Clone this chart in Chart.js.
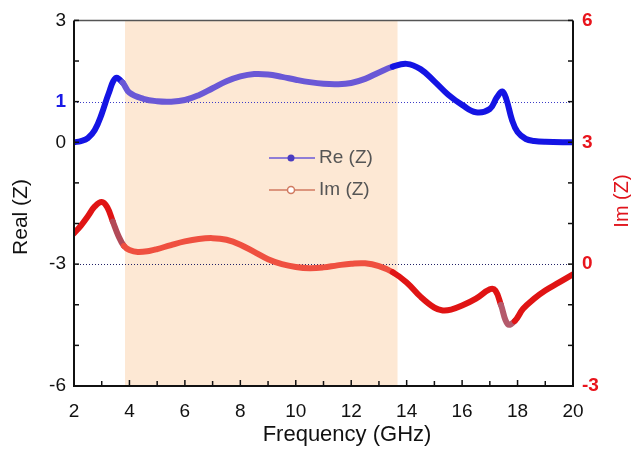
<!DOCTYPE html>
<html>
<head>
<meta charset="utf-8">
<script src="https://cdn.jsdelivr.net/npm/chart.js@4/dist/chart.umd.min.js"></script>
<style>
  html, body { margin: 0; padding: 0; background: #fff; }
  #wrap { width: 631px; height: 453px; }
</style>
</head>
<body>
<div id="wrap"><canvas id="canvas" width="631" height="453"></canvas></div>
<script>
// frequency (GHz) and Re(Z) (left axis)
var reFreq = [2.0, 2.25, 2.5, 2.75, 3.0, 3.25, 3.5, 3.75, 4.0, 4.5, 5.0, 5.5, 6.0, 6.5, 7.0, 7.5, 8.0, 8.5, 9.0, 9.5,
    10.0, 10.5, 11.0, 11.5, 12.0, 12.5, 13.0, 13.5, 14.0, 14.5, 15.0, 15.5, 16.0, 16.5, 17.0, 17.25, 17.45, 17.6,
    17.8, 18.0, 18.3, 18.6, 19.0, 20.0];
var reVals = [0.00, 0.03, 0.10, 0.30, 0.70, 1.20, 1.58, 1.47, 1.22, 1.07, 1.01, 1.00, 1.04, 1.16, 1.33, 1.50, 1.62, 1.68, 1.67, 1.61,
    1.54, 1.48, 1.44, 1.43, 1.46, 1.56, 1.72, 1.86, 1.93, 1.80, 1.50, 1.17, 0.92, 0.74, 0.82, 1.10, 1.25, 1.05,
    0.55, 0.25, 0.08, 0.03, 0.01, 0.00];

// frequency (GHz) and Im(Z) (right axis)
var imFreq = [2.0, 2.25, 2.5, 2.75, 3.0, 3.2, 3.4, 3.6, 3.8, 4.0, 4.3, 4.75, 5.0, 5.5, 6.0, 6.5, 7.0, 7.5, 8.0, 8.5, 9.0, 9.5,
    10.0, 10.5, 11.0, 11.5, 12.0, 12.5, 13.0, 13.5, 14.0, 14.5, 15.0, 15.3, 15.6, 16.0, 16.5, 17.0, 17.2, 17.4,
    17.65, 17.9, 18.2, 18.6, 19.0, 19.5, 20.0];
var imVals = [0.76, 0.95, 1.18, 1.42, 1.53, 1.40, 1.05, 0.70, 0.45, 0.35, 0.30, 0.33, 0.37, 0.47, 0.56, 0.62, 0.64, 0.60, 0.48, 0.30, 0.12, 0.00,
    -0.07, -0.10, -0.08, -0.03, 0.01, 0.02, -0.05, -0.20, -0.45, -0.80, -1.07, -1.14, -1.12, -1.02, -0.85, -0.62, -0.65, -1.00,
    -1.48, -1.40, -1.10, -0.85, -0.65, -0.45, -0.25];

var bandStart = 3.84, bandEnd = 13.67;
var leftLabels = [3, 1, 0, -3, -6];
var rightLabels = [6, 3, 0, -3];
var refLines = [1, -3];

function toPoints(xs, ys) {
    var pts = [];
    for (var i = 0; i < xs.length; i++) pts.push({ x: xs[i], y: ys[i] });
    return pts;
}

function inBand(ctx) {
    var mid = (ctx.p0.parsed.x + ctx.p1.parsed.x) / 2;
    return mid > bandStart && mid < bandEnd;
}

function reColor(ctx) {
    return inBand(ctx) ? '#6a58d6' : '#1414e4';
}

function imColor(ctx) {
    var mid = (ctx.p0.parsed.x + ctx.p1.parsed.x) / 2;
    if (mid > 3.3 && mid < 3.84) return '#b24a58';
    if (mid > 17.3 && mid < 17.8) return '#b45a6c';
    return inBand(ctx) ? '#ef5040' : '#e01414';
}

function isOne(c) {
    return c && c.tick && c.tick.value == 1;
}

var frame = {
    id: 'frame',
    beforeDatasetsDraw: function (chart) {
        var c = chart.ctx, a = chart.chartArea, x = chart.scales.x, y = chart.scales.y;
        c.save();
        c.fillStyle = 'rgb(253,232,212)';
        c.fillRect(x.getPixelForValue(bandStart), a.top, x.getPixelForValue(bandEnd) - x.getPixelForValue(bandStart), a.bottom - a.top);
        c.lineWidth = 1;
        c.setLineDash([1, 2]);
        refLines.forEach(function (v, i) {
            var py = Math.round(y.getPixelForValue(v)) + 0.5;
            c.strokeStyle = i == 0 ? '#3c3cc8' : '#222266';
            c.beginPath();
            c.moveTo(a.left, py);
            c.lineTo(a.right, py);
            c.stroke();
        });
        c.restore();
    },
    afterDatasetsDraw: function (chart) {
        var c = chart.ctx, a = chart.chartArea;
        var x = chart.scales.x, y = chart.scales.y, y2 = chart.scales.y2;
        c.save();
        // box
        c.strokeStyle = '#555';
        c.lineWidth = 1.5;
        c.beginPath();
        c.moveTo(a.left, a.top);
        c.lineTo(a.right, a.top);
        c.stroke();
        c.strokeStyle = '#111';
        c.lineWidth = 2;
        c.beginPath();
        c.moveTo(a.left, a.top);
        c.lineTo(a.left, a.bottom);
        c.lineTo(a.right, a.bottom);
        c.lineTo(a.right, a.top);
        c.stroke();

        // inward ticks
        c.lineWidth = 1.5;
        x.ticks.forEach(function (t) {
            var px = x.getPixelForValue(t.value);
            var len = t.value % 2 == 0 ? 6 : 5;
            c.beginPath();
            c.moveTo(px, a.bottom);
            c.lineTo(px, a.bottom - len);
            c.stroke();
        });
        y.ticks.forEach(function (t) {
            var py = y.getPixelForValue(t.value);
            c.beginPath();
            c.moveTo(a.left, py);
            c.lineTo(a.left + 5, py);
            c.stroke();
        });
        y2.ticks.forEach(function (t) {
            var py = y2.getPixelForValue(t.value);
            c.beginPath();
            c.moveTo(a.right, py);
            c.lineTo(a.right - 5, py);
            c.stroke();
        });

        // legend
        c.lineWidth = 1.5;
        c.strokeStyle = '#6a5ad8';
        c.beginPath(); c.moveTo(269, 158); c.lineTo(315, 158); c.stroke();
        c.fillStyle = '#4a3cc0';
        c.beginPath(); c.arc(291, 158, 3.5, 0, Math.PI * 2); c.fill();
        c.strokeStyle = '#d07a60';
        c.beginPath(); c.moveTo(269, 190); c.lineTo(315, 190); c.stroke();
        c.fillStyle = '#fff';
        c.beginPath(); c.arc(291, 190, 3.5, 0, Math.PI * 2); c.fill(); c.stroke();
        c.fillStyle = '#555';
        c.font = '19px "Liberation Sans", Arial, sans-serif';
        c.textBaseline = 'middle';
        c.textAlign = 'left';
        c.fillText('Re (Z)', 319, 158);
        c.fillText('Im (Z)', 319, 190);

        // axis titles
        c.fillStyle = '#111';
        c.textAlign = 'center';
        c.font = '22px "Liberation Sans", Arial, sans-serif';
        c.fillText('Frequency (GHz)', 347, 435);
        c.save();
        c.translate(21, 217);
        c.rotate(-Math.PI / 2);
        c.font = '21px "Liberation Sans", Arial, sans-serif';
        c.fillText('Real (Z)', 0, 0);
        c.restore();
        c.save();
        c.translate(622, 201);
        c.rotate(-Math.PI / 2);
        c.fillStyle = '#e0141c';
        c.font = '20px "Liberation Sans", Arial, sans-serif';
        c.fillText('Im (Z)', 0, 0);
        c.restore();
        c.restore();
    }
};

var ctx = document.getElementById('canvas').getContext('2d');
var chart = new Chart(ctx, {
    type: 'line',
    data: {
        datasets: [{
            label: 'Re (Z)',
            data: toPoints(reFreq, reVals),
            yAxisID: 'y',
            borderColor: '#1414e4',
            borderWidth: 6,
            borderJoinStyle: 'round',
            borderCapStyle: 'round',
            pointRadius: 0,
            tension: 0.4,
            segment: { borderColor: reColor }
        }, {
            label: 'Im (Z)',
            data: toPoints(imFreq, imVals),
            yAxisID: 'y2',
            borderColor: '#e01414',
            borderWidth: 6,
            borderJoinStyle: 'round',
            borderCapStyle: 'round',
            pointRadius: 0,
            tension: 0.4,
            segment: { borderColor: imColor }
        }]
    },
    options: {
        responsive: false,
        animation: false,
        layout: { padding: { top: 19, left: 0, right: 0, bottom: 0 } },
        plugins: { legend: { display: false }, tooltip: { enabled: false } },
        scales: {
            x: {
                type: 'linear',
                min: 2, max: 20,
                grid: { display: false, drawTicks: false },
                border: { display: false },
                ticks: {
                    stepSize: 1,
                    padding: 14,
                    color: '#111',
                    font: { size: 19, family: '"Liberation Sans", Arial, sans-serif' },
                    maxRotation: 0,
                    autoSkip: false,
                    callback: function (v) { return v % 2 == 0 ? String(v) : ''; }
                },
                afterFit: function (s) { s.height = 67; }
            },
            y: {
                position: 'left',
                min: -6, max: 3,
                grid: { display: false, drawTicks: false },
                border: { display: false },
                ticks: {
                    stepSize: 1,
                    padding: 8,
                    autoSkip: false,
                    color: function (c) { return isOne(c) ? '#1a1ae6' : '#111'; },
                    font: function (c) {
                        return { size: 19, family: '"Liberation Sans", Arial, sans-serif', weight: isOne(c) ? 'bold' : 'normal' };
                    },
                    callback: function (v) { return leftLabels.indexOf(v) >= 0 ? String(v) : ''; }
                },
                afterFit: function (s) { s.width = 74; }
            },
            y2: {
                position: 'right',
                min: -3, max: 6,
                grid: { display: false, drawTicks: false },
                border: { display: false },
                ticks: {
                    stepSize: 1,
                    padding: 9,
                    autoSkip: false,
                    color: '#e8141c',
                    font: { size: 19, weight: 'bold', family: '"Liberation Sans", Arial, sans-serif' },
                    callback: function (v) { return rightLabels.indexOf(v) >= 0 ? String(v) : ''; }
                },
                afterFit: function (s) { s.width = 58; }
            }
        }
    },
    plugins: [frame]
});
</script>
</body>
</html>
